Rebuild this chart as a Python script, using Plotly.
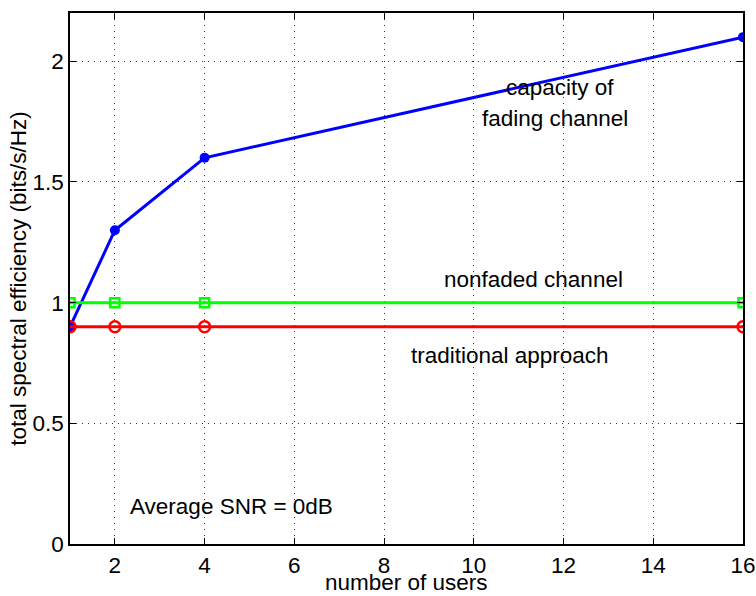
import plotly.graph_objects as go

users = [1, 2, 4, 16]
capacity_fading = [0.9, 1.3, 1.6, 2.1]
nonfaded = [1.0, 1.0, 1.0, 1.0]
traditional = [0.9, 0.9, 0.9, 0.9]

x_ticks = [2, 4, 6, 8, 10, 12, 14, 16]
y_ticks = [0, 0.5, 1, 1.5, 2]
y_ticklabels = ["0", "0.5", "1", "1.5", "2"]

labels = [
    ("capacity of", 11.92, 1.893),
    ("fading channel", 11.80, 1.763),
    ("nonfaded channel", 11.33, 1.097),
    ("traditional approach", 10.81, 0.782),
    ("Average SNR = 0dB", 4.59, 0.155),
]

FONT = "Liberation Sans, Arial, Helvetica, sans-serif"
FS = 22.5

fig = go.Figure()
fig.add_trace(go.Scatter(x=users, y=capacity_fading, mode="lines+markers",
                         line=dict(color="#0000FF", width=3),
                         marker=dict(symbol="circle", size=10, color="#0000FF"),
                         name="capacity of fading channel"))
fig.add_trace(go.Scatter(x=users, y=nonfaded, mode="lines+markers",
                         line=dict(color="#00FF00", width=3),
                         marker=dict(symbol="square-open", size=9, color="#00FF00",
                                     line=dict(width=2.5, color="#00FF00")),
                         name="nonfaded channel"))
fig.add_trace(go.Scatter(x=users, y=traditional, mode="lines+markers",
                         line=dict(color="#FF0000", width=3),
                         marker=dict(symbol="circle-open", size=11, color="#FF0000",
                                     line=dict(width=2.5, color="#FF0000")),
                         name="traditional approach"))

for text, xx, yy in labels:
    fig.add_annotation(x=xx, y=yy, xref="x", yref="y", text=text, showarrow=False,
                       font=dict(family=FONT, size=FS, color="black"),
                       xanchor="center", yanchor="middle")

# x-axis title placed just under the tick labels
fig.add_annotation(x=0.5, y=-0.0975, xref="paper", yref="paper", text="number of users",
                   showarrow=False, font=dict(family=FONT, size=FS, color="black"),
                   xanchor="center", yanchor="bottom", borderpad=0)

axis_common = dict(
    showline=True, linecolor="black", linewidth=1.5, mirror="ticks",
    ticks="inside", ticklen=6, tickcolor="black", tickwidth=1,
    showgrid=True, gridcolor="#333333", griddash="1px,5px", gridwidth=1,
    zeroline=False, automargin=False,
    tickfont=dict(family=FONT, size=FS, color="black"),
)

fig.update_xaxes(range=[1, 16], tickmode="array", tickvals=x_ticks, **axis_common)
fig.update_yaxes(range=[0, 2.2], tickmode="array", tickvals=y_ticks, ticktext=y_ticklabels,
                 title=dict(text="total spectral efficiency (bits/s/Hz)", standoff=0,
                            font=dict(family=FONT, size=FS, color="black")),
                 **axis_common)

fig.update_layout(
    width=756, height=596,
    margin=dict(l=70, r=13, t=13, b=52, autoexpand=False),
    paper_bgcolor="white", plot_bgcolor="white",
    showlegend=False,
    font=dict(family=FONT, size=FS, color="black"),
)

fig.write_html("out.html", config={"displayModeBar": False},
               post_script="document.body.style.margin='0px';document.body.style.overflow='hidden';")
